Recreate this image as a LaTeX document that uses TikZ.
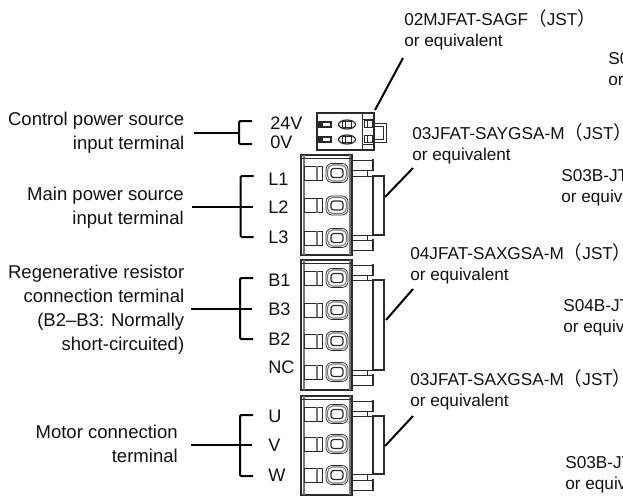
\documentclass[tikz,border=0pt]{standalone}
\usepackage{fontspec}
\setmainfont{Liberation Sans}
\newfontfamily\cjk[Scale=1.08]{Noto Sans CJK JP}
\usepackage{xcolor}
\usetikzlibrary{calc}
\definecolor{ink}{HTML}{111111}
\definecolor{edge}{HTML}{2A2A2A}
\definecolor{grey}{HTML}{777777}
\tikzset{
  lead/.style={draw=black, line width=1.5pt, line join=round},
  brk/.style={draw=black, line width=1.5pt, rounded corners=1pt},
  body/.style={draw=edge, line width=0.9pt},
  thin/.style={draw=edge, line width=0.55pt},
  soft/.style={draw=grey, line width=0.8pt},
  lab/.style={text=ink, anchor=east, align=right, inner sep=0pt, font=\fontsize{13.9}{18}\selectfont},
  part/.style={text=ink, anchor=west, align=left, inner sep=0pt, font=\fontsize{12.9}{15.8}\selectfont},
  pin/.style={text=ink, anchor=west, inner sep=0pt, font=\fontsize{13.6}{15}\selectfont},
}
\newcommand{\jst}{{\cjk（}JST\makebox[0.45em][l]{\cjk）}}
% #1 top, #2 bottom, #3 block top, #4 block bottom, #5 pin rows
\newcommand{\plug}[5]{
  \draw[body] (301,#1) rectangle (352,#2);
  \draw[soft] (304,#1) -- (304,#2) (350,#1) -- (350,#2);
  \draw[thin] (301,#1+3) -- (352,#1+3);
  \draw[thin] (352,#1+5) rectangle (372,#1+15);
  \draw[thin] (352,#2-15) rectangle (372,#2-5);
  \draw[body] (373,#1+4) -- (373,#1+16) (373,#2-16) -- (373,#2-4);
  \draw[thin] (367,#1+15) -- (367,#3) (367,#2-15) -- (367,#4);
  \draw[thin] (352,#3) -- (373,#3) (352,#4) -- (373,#4);
  \draw[body] (373,#3) rectangle (384,#4);
  \foreach \y in {#5} {
    \draw[thin] (304.5,\y-7) rectangle (322,\y+7);
    \draw[soft] (317,\y-7) -- (317,\y+7);
    \draw[thin, rounded corners=4.5pt] (326,\y-9.5) rectangle (348,\y+9.5);
    \draw[soft, rounded corners=4pt] (327.5,\y-8) rectangle (346.5,\y+8);
    \draw[body, rounded corners=2pt] (331,\y-4.5) rectangle (343,\y+4.5);
  }
}

\begin{document}
\begin{tikzpicture}[x=0.75pt,y=-0.75pt]
  \useasboundingbox (0,0) rectangle (623,496);
  % terminal names
  \node[lab] (lblControl) at (184.5,132.5) {Control power source\\input terminal};
  \node[lab] (lblMain) at (184,207.5) {Main power source\\input terminal};
  \node[lab] (lblRegen) at (184.5,310) {Regenerative resistor\\connection terminal\\(B2--B3: Normally\\short-circuited)};
  \node[lab] (lblMotor) at (178,444) {Motor connection\\terminal};
  % brackets
  \foreach \nm/\xs/\xb/\xe/\yt/\ym/\yb in {Control/194/239/239/121/133/144,
      Main/192/240.5/253/176/207/237, Regen/191/240/252/278/309/339, Motor/191/240/252/415/445/476} {
    \coordinate (from\nm) at (\xs,\ym);
    \coordinate (mid\nm) at (\xe,\ym);
    \draw[lead] (from\nm) -- (mid\nm);
    \draw[brk] (\xb+13,\yt) -- (\xb,\yt) -- (\xb,\yb) -- (\xb+13,\yb);
  }
  % pin names
  \foreach \nm/\tx/\xp/\yp in {a/24V/270/123, b/0V/270/142, c/L1/268/179, d/L2/268/207, e/L3/268/237,
      f/B1/268/280, g/B3/268/309, h/B2/268/339, i/NC/268/367, j/U/268/416, k/V/268/445, l/W/268/475}
    \node[pin] (pin\nm) at (\xp,\yp) {\tx};
  % small plug
  \draw[body] (317,113) rectangle (374,150);
  \draw[thin] (362,113) -- (362,150) (362,119) -- (374,119) (362,144) -- (374,144);
  \draw[thin] (374,123) -- (386,123) -- (386,142) -- (374,142);
  \draw[thin] (374,126) -- (383,126) -- (383,139) -- (374,139);
  \foreach \y in {124.5,139.5} {
    \draw[body] (319,\y-2.5) rectangle (331,\y+2.5);
    \fill[edge] (319,\y-2.5) rectangle (323,\y+2.5);
    \draw[body] (347,\y) ellipse [x radius=8.5, y radius=4.5];
    \draw[thin] (342,\y-3) rectangle (351,\y+3);
    \draw[thin] (345,\y-4) -- (345,\y+4);
    \draw[thin] (364,\y-4) rectangle (372,\y+3);
    \draw[thin] (367,\y-4) -- (367,\y+3);
  }
  % large plugs
  \plug{155}{255}{176}{235}{173,205.5,238}
  \plug{260}{390}{280}{370}{278,310,341,372}
  \plug{396}{495}{416}{474}{414,444,475}
  % part names
  \node[part] (partA) at (404,30) {02MJFAT-SAGF\jst\\or equivalent};
  \node[part] (partB) at (412,144) {03JFAT-SAYGSA-M\jst\\or equivalent};
  \node[part] (partC) at (410,264) {04JFAT-SAXGSA-M\jst\\or equivalent};
  \node[part] (partD) at (410,390) {03JFAT-SAXGSA-M\jst\\or equivalent};
  \node[part] (hdrA) at (608,69) {S0\\or};
  \node[part] (hdrB) at (561,188) {S03B-JT\\or equiv};
  \node[part] (hdrC) at (563,318) {S04B-JT\\or equiv};
  \node[part] (hdrD) at (565,475) {S03B-JT\\or equiv};
  % leaders
  \coordinate (tipA) at (375,110); \coordinate (tailA) at (403,58);
  \coordinate (tipB) at (385,197); \coordinate (tailB) at (413,168);
  \coordinate (tipC) at (386,320); \coordinate (tailC) at (413,289);
  \coordinate (tipD) at (385,446); \coordinate (tailD) at (413,416);
  \foreach \nm in {A,B,C,D}
    \draw[lead] (tail\nm) -- (tip\nm);
\end{tikzpicture}
\end{document}
